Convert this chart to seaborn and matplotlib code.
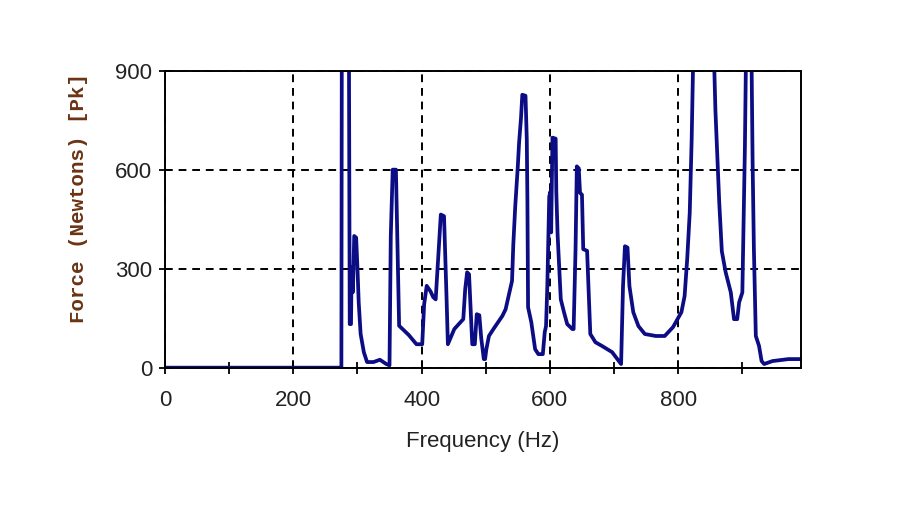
import matplotlib
matplotlib.use('Agg')
import matplotlib.pyplot as plt
import seaborn as sns
from matplotlib.ticker import MultipleLocator

# Spectrum (Hz, Newtons). Peaks above 900 are cut by the axes.
freq = [0, 270, 275, 276, 286, 288, 290, 291, 293, 295, 298, 300, 302, 305, 310,
        315, 325, 335, 345, 350, 352, 355, 360, 362, 365, 380, 392, 401, 404,
        408, 414, 418, 422, 426, 430, 435, 437, 439, 441, 451, 465, 468, 471,
        474, 477, 479, 483, 486, 490, 493, 497, 499, 501, 505, 512, 526, 531,
        537, 541, 543, 546, 550, 552, 555, 557, 562, 564, 565, 566, 571, 577,
        582, 589, 592, 594, 596, 599, 601, 602, 604, 609, 610, 612, 617, 622,
        627, 635, 637, 640, 642, 645, 647, 650, 652, 658, 663, 671, 681, 697,
        711, 714, 717, 721, 724, 730, 738, 748, 765, 779, 792, 805, 810, 814,
        818, 821, 824, 840, 855, 858, 861, 864, 868, 874, 882, 887, 892, 895,
        900, 902, 904, 906, 910, 914, 916, 918, 921, 926, 930, 934, 947, 972, 992]
force = [1, 1, 1, 1500, 1500, 133, 133, 305, 230, 400, 395, 305, 199, 103, 48,
         18, 18, 25, 12, 8, 400, 601, 601, 411, 128, 100, 72, 72, 193,
         249, 232, 215, 208, 339, 465, 460, 339, 208, 72, 118, 148, 239, 290,
         284, 160, 72, 72, 163, 160, 90, 27, 27, 57, 97, 118, 158, 178,
         229, 264, 375, 490, 611, 683, 758, 828, 825, 692, 501, 184, 139, 57,
         42, 42, 109, 127, 248, 520, 535, 411, 698, 695, 535, 405, 208, 169,
         133, 118, 118, 360, 611, 605, 531, 525, 360, 355, 103, 78, 67, 48,
         12, 248, 369, 365, 248, 169, 127, 103, 97, 97, 124, 169, 218, 329,
         471, 692, 1000, 1400, 1000, 782, 640, 501, 354, 290, 229, 148, 148, 199,
         229, 450, 671, 1000, 1300, 1000, 622, 360, 97, 67, 21, 12, 21, 27, 27]

x_ticks = [0, 200, 400, 600, 800]
y_ticks = [0, 300, 600, 900]

sns.set_style('white')
plt.rcParams['font.family'] = ['Liberation Sans', 'DejaVu Sans']

fig = plt.figure(figsize=(9.19, 5.05), dpi=100)
ax = fig.add_axes([0.1795, 0.2713, 0.6925, 0.5881])

sns.lineplot(x=freq, y=force, ax=ax, color='#0c0c84', linewidth=2.7)

ax.set_xlim(0, 992)
ax.set_ylim(0, 900)
ax.set_xticks(x_ticks)
ax.set_yticks(y_ticks)
ax.xaxis.set_minor_locator(MultipleLocator(100))

# grid en tirets noirs
ax.grid(True, which='major', color='black', linestyle=(0, (4, 3)), linewidth=1.4)

for s in ax.spines.values():
    s.set_color('black')
    s.set_linewidth(1.4)

ax.tick_params(axis='both', which='both', bottom=True, left=True, top=False, right=False)
ax.tick_params(axis='both', which='major', direction='inout', length=8, width=1.3,
               color='black', labelsize=16, labelcolor='#222222')
ax.tick_params(axis='x', which='major', pad=12)
ax.tick_params(axis='y', which='major', pad=5)
ax.tick_params(axis='x', which='minor', direction='inout', length=8, width=1.3, color='black')

ax.set_xlabel('Frequency (Hz)', fontsize=16, color='#222222', labelpad=14)
ax.set_ylabel('Force (Newtons) [Pk]', fontsize=15, fontweight='bold',
              family=['Liberation Mono', 'DejaVu Sans Mono'], color='#6b3414')
ax.yaxis.set_label_coords(-0.121, 0.574)

fig.savefig('out.png', dpi=100)
